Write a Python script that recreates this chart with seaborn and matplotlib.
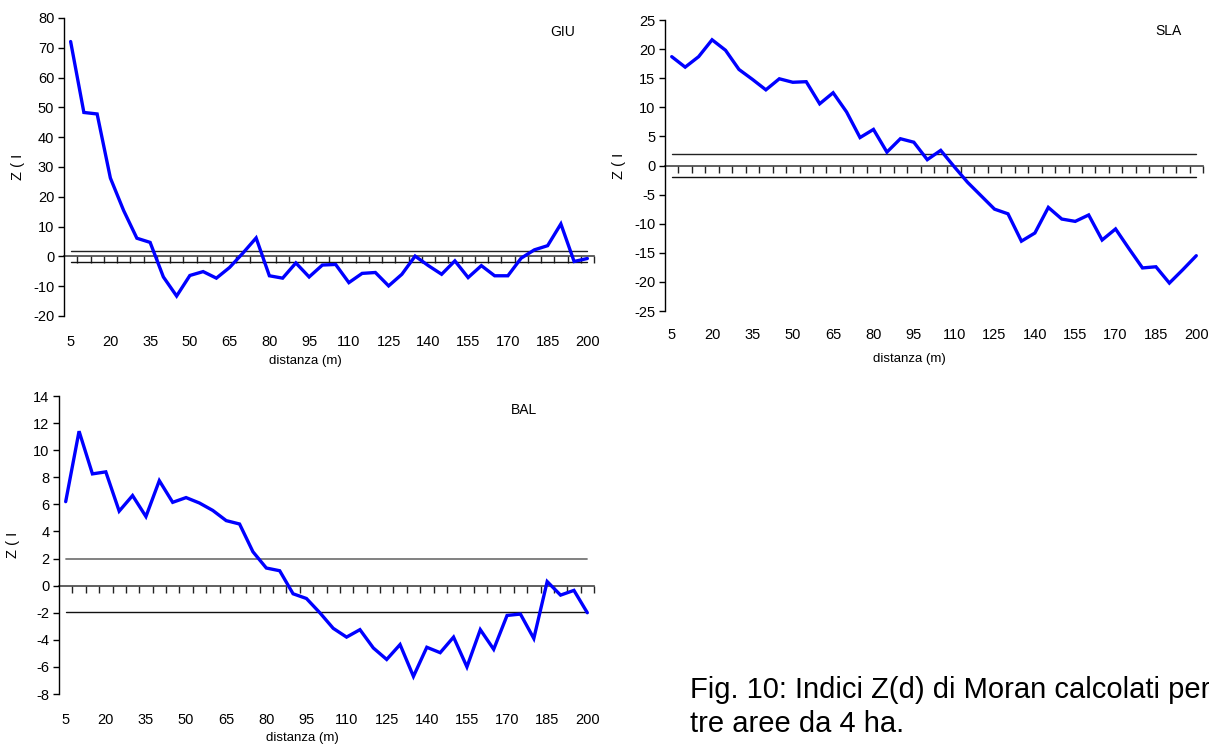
import numpy as np
import pandas as pd
import matplotlib
matplotlib.use("Agg")
import matplotlib.pyplot as plt
import seaborn as sns

sns.set_style("white")
plt.rcParams["font.family"] = ["Liberation Sans", "DejaVu Sans"]
plt.rcParams.update({"text.color": "black", "axes.labelcolor": "black",
                     "xtick.color": "black", "ytick.color": "black"})

# Lag distances (m)
distanza = list(range(5, 205, 5))
tick_labels = [str(d) for d in distanza[::3]]

# Moran Z(d) correlograms for the three 4 ha plots
z_giu = [72.1, 48.3, 47.8, 26.3, 15.4, 6.1, 4.7, -6.9, -13.3, -6.4,
         -5.1, -7.3, -3.7, 1.1, 6.2, -6.5, -7.3, -2.2, -6.9, -2.9,
         -2.7, -8.8, -5.7, -5.4, -9.9, -6.0, 0.1, -3.1, -6.0, -1.5,
         -7.1, -3.1, -6.5, -6.5, -0.6, 2.2, 3.6, 10.9, -1.7, -0.7]
z_sla = [18.7, 16.9, 18.7, 21.6, 19.8, 16.5, 14.8, 13.0, 14.9, 14.3,
         14.4, 10.6, 12.5, 9.2, 4.8, 6.2, 2.3, 4.6, 4.0, 1.0,
         2.6, -0.2, -2.9, -5.2, -7.5, -8.3, -13.0, -11.6, -7.2, -9.2,
         -9.6, -8.5, -12.8, -10.9, -14.3, -17.6, -17.4, -20.2, -17.9, -15.5]
z_bal = [6.2, 11.4, 8.25, 8.4, 5.5, 6.65, 5.1, 7.75, 6.15, 6.5,
         6.1, 5.55, 4.8, 4.55, 2.5, 1.3, 1.1, -0.6, -0.95, -2.0,
         -3.15, -3.8, -3.25, -4.6, -5.45, -4.35, -6.7, -4.55, -4.95, -3.8,
         -6.0, -3.25, -4.7, -2.2, -2.1, -3.9, 0.3, -0.7, -0.35, -2.0]

# Significance bounds (alpha = 0.05)
z_crit = 1.96

# Caption lines
caption_lines = ["Fig. 10: Indici Z(d) di Moran calcolati per", "tre aree da 4 ha."]

W, H = 1209, 747
fig = plt.figure(figsize=(W / 100, H / 100), dpi=100)


def px_axes(left, top, right, bottom):
    return fig.add_axes([left / W, 1 - bottom / H, (right - left) / W, (bottom - top) / H])


panels = [
    # name, values, (left, top, right, bottom), ylim, ystep, label pos,
    # upper line colour, tick label pad, x label offset (px)
    ("GIU", z_giu, (64, 18, 594, 316), (-20, 80), 10, (0.94, 0.953), "#222222", 14, 39),
    ("SLA", z_sla, (665, 20, 1203, 311), (-25, 25), 5, (0.935, 0.962), "#222222", 12, 42),
    ("BAL", z_bal, (59, 396, 594, 694), (-8, 14), 2, (0.869, 0.953), "#777777", 14, 38),
]

pos = np.arange(len(distanza))

for name, values, box, ylim, ystep, lab, upper_col, tpad, xoff in panels:
    ax = px_axes(*box)
    df = pd.DataFrame({"pos": pos, "distanza": distanza, "z": values})

    sns.lineplot(data=df, x="pos", y="z", ax=ax, color="#0000ff", lw=2.4,
                 solid_joinstyle="miter", zorder=5)
    sns.lineplot(x=pos, y=np.full(len(pos), z_crit), ax=ax, color=upper_col,
                 lw=1.3 if name == "BAL" else 1.0, zorder=3)
    sns.lineplot(x=pos, y=np.full(len(pos), -z_crit), ax=ax, color="#111111",
                 lw=1.0, zorder=3)

    ax.set_xlim(-0.5, len(pos) - 0.5)
    ax.set_ylim(*ylim)
    ax.set_yticks(np.arange(ylim[0], ylim[1] + ystep / 2, ystep))
    ax.yaxis.set_major_formatter(matplotlib.ticker.FormatStrFormatter("%d"))

    for s in ("top", "right", "bottom"):
        ax.spines[s].set_visible(False)
    ax.spines["left"].set_color("black")
    ax.spines["left"].set_linewidth(1.0)

    # category labels along the bottom
    ax.set_xticks(pos[::3])
    ax.set_xticklabels(tick_labels)
    ax.tick_params(axis="x", length=0, pad=tpad, labelsize=10.5)
    ax.tick_params(axis="y", direction="out", length=4, width=1, color="black",
                   labelsize=10.5, pad=3, left=True)

    # category axis crossing at zero, with tick marks between categories
    frac = (0 - ylim[0]) / (ylim[1] - ylim[0])
    sec = ax.secondary_xaxis(frac)
    sec.set_alignment("bottom")
    sec.set_xticks(pos + 0.5)
    sec.tick_params(axis="x", direction="out", length=5, width=1,
                    color="#222222", labelbottom=False)
    sec.spines["bottom"].set_color("#444444")
    sec.spines["bottom"].set_linewidth(1.2)

    ax.set_xlabel("distanza (m)", fontsize=9.5, labelpad=0)
    width_px = box[2] - box[0]
    height_px = box[3] - box[1]
    ax.xaxis.set_label_coords(0.455, -xoff / height_px)
    ax.set_ylabel("Z ( I", fontsize=10.5)
    ax.yaxis.set_label_coords(-39 / width_px, 0.5)

    ax.text(lab[0], lab[1], name, transform=ax.transAxes, ha="center",
            va="center", fontsize=10)
    ax.set_facecolor("white")

for line, base in zip(caption_lines, (698, 732)):
    fig.text(690 / W, 1 - base / H, line, fontsize=21, ha="left", va="baseline")

fig.savefig("out.png", dpi=100, facecolor="white")
